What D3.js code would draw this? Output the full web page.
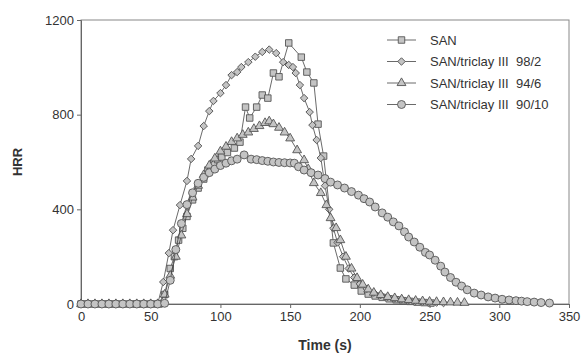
<!DOCTYPE html>
<html>
<head>
<meta charset="utf-8">
<script src="https://cdn.jsdelivr.net/npm/d3@7"></script>
<style>
body { margin: 0; background: #fff; }
text { font-family: "Liberation Sans", Arial, sans-serif; fill: #333; white-space: pre; }
</style>
</head>
<body>
<script>
var width = 585;
var height = 358;

var seriesNames = ["SAN", "SAN/triclay III  98/2", "SAN/triclay III  94/6", "SAN/triclay III  90/10"];
var xTicks = [0, 50, 100, 150, 200, 250, 300, 350];
var yTicks = [0, 400, 800, 1200];

// [time, HRR]
var san = [[0,0],[4,0],[8,0],[12,0],[16,0],[20,0],[24,0],[28,0],[32,0],[36,0],[40,0],[44,0],[48,0],[52,0],[56,0],
  [60,40],[64,150],[67,200],[70,270],[73,320],[76,370],[80,440],[84,490],[88,528],[91,566],[95,595],[98,610],[101,621],
  [105,640],[110,659],[114,684],[118,832],[121,786],[126,832],[130,883],[134,870],[138,976],[142,960],[149,1103],
  [158,1043],[162,980],[167,934],[170,760],[174,625],[181,258],[186,152],[190,106],[196,80],[201,55],[206,42],
  [211,34],[216,28],[221,22],[226,18],[231,14],[236,11],[241,8],[246,6],[251,4]];
var tc98 = [[0,0],[5,0],[10,0],[15,0],[20,0],[25,0],[30,0],[35,0],[40,0],[45,0],[50,0],[55,0],
  [59,93],[63,215],[66,312],[71,418],[76,520],[79,613],[84,668],[88,752],[92,815],[95,858],[100,891],[104,925],
  [108,967],[112,980],[115,1001],[120,1022],[125,1045],[130,1065],[135,1075],[140,1060],[145,1022],[149,1010],[152,1001],
  [154,976],[157,925],[160,870],[164,811],[166,756],[169,693],[172,617],[175,500],[178,400],[181,320],[184,260],[188,200],
  [192,150],[196,112],[200,85],[205,64],[210,48],[215,38],[220,30],[225,24],[230,20],[235,16],[240,13],[245,10],
  [250,8],[255,6],[260,4]];
var tc94 = [[0,0],[5,0],[10,0],[15,0],[20,0],[25,0],[30,0],[35,0],[40,0],[45,0],[50,0],[55,0],
  [60,40],[64,120],[68,200],[72,290],[76,380],[80,450],[84,500],[88,545],[92,585],[96,615],[100,645],[104,665],
  [108,685],[112,700],[116,715],[120,725],[124,740],[128,752],[132,765],[135,772],[138,760],[142,745],[146,725],
  [150,700],[155,650],[160,608],[163,570],[167,511],[172,469],[176,418],[179,363],[183,321],[186,270],[190,200],
  [194,150],[198,110],[202,82],[206,62],[210,48],[215,38],[220,30],[225,25],[230,20],[235,17],[240,14],[245,12],
  [250,10],[255,9],[260,8],[265,7],[270,6],[275,5]];
var tc90 = [[0,0],[5,0],[10,0],[15,0],[20,0],[25,0],[30,0],[35,0],[40,0],[45,0],[50,0],[55,0],
  [60,3],[64,100],[68,230],[72,340],[76,420],[80,470],[84,510],[88,535],[92,555],[96,570],[100,585],[104,595],
  [108,605],[112,612],[117,630],[122,612],[126,610],[130,606],[134,603],[138,600],[142,598],[146,597],[150,596],
  [153,595],[156,580],[160,566],[165,555],[170,545],[175,530],[179,515],[184,503],[189,490],[194,475],[199,460],
  [203,445],[207,431],[211,410],[216,385],[220,367],[224,347],[228,330],[232,305],[235,283],[239,262],[243,240],
  [247,218],[250,207],[254,185],[258,160],[261,135],[265,112],[269,92],[273,76],[277,60],[282,46],[287,38],
  [292,30],[297,25],[302,20],[307,17],[312,14],[316,12],[320,10],[325,8],[330,6],[336,4]];

var allSeries = [san, tc98, tc94, tc90];
var markers = [d3.symbolSquare, d3.symbolSquare, d3.symbolTriangle, d3.symbolCircle];
var markerSize = [42, 28, 34, 50];
var markerRot = [0, 45, 0, 0];

var svg = d3.select("body")
    .append("svg")
    .attr("width", width)
    .attr("height", height);

var x = d3.scaleLinear().domain([0, 350]).range([81, 569]);
var y = d3.scaleLinear().domain([0, 1200]).range([304, 20]);

// frame
svg.append("rect")
    .attr("x", x(0))
    .attr("y", y(1200))
    .attr("width", x(350) - x(0))
    .attr("height", y(0) - y(1200))
    .attr("fill", "none")
    .attr("stroke", "#888")
    .attr("stroke-width", 1);

var xAxis = svg.append("g")
    .attr("transform", "translate(0," + y(0) + ")")
    .call(d3.axisBottom(x).tickValues(xTicks).tickFormat(d3.format("d")).tickSize(4).tickPadding(4));
var yAxis = svg.append("g")
    .attr("transform", "translate(" + x(0) + ",0)")
    .call(d3.axisLeft(y).tickValues(yTicks).tickFormat(d3.format("d")).tickSize(4).tickPadding(3));
[xAxis, yAxis].forEach(function(ax) {
  ax.select(".domain").attr("stroke", "#666");
  ax.selectAll(".tick line").attr("stroke", "#666");
  ax.selectAll(".tick text").attr("fill", "#333").style("font-size", "13px")
    .style("font-family", "Liberation Sans, Arial, sans-serif");
});

var line = d3.line()
    .x(function(d) { return x(d[0]); })
    .y(function(d) { return y(d[1]); });

allSeries.forEach(function(data, i) {
  var g = svg.append("g");
  g.append("path")
      .attr("d", line(data))
      .attr("fill", "none")
      .attr("stroke", "#444")
      .attr("stroke-width", 0.8);
  g.selectAll("path.m")
      .data(data)
      .enter().append("path")
      .attr("class", "m")
      .attr("transform", function(d) { return "translate(" + x(d[0]) + "," + y(d[1]) + ") rotate(" + markerRot[i] + ")"; })
      .attr("d", d3.symbol().type(markers[i]).size(markerSize[i]))
      .attr("fill", "#c4c4c4")
      .attr("stroke", "#555")
      .attr("stroke-width", 0.9);
});

// legend
var legend = svg.selectAll(".legend")
    .data(seriesNames)
    .enter().append("g")
    .attr("class", "legend")
    .attr("transform", function(d, i) { return "translate(0," + (40 + i * 21.5) + ")"; });

legend.append("line")
    .attr("x1", 387).attr("x2", 416)
    .attr("y1", 0).attr("y2", 0)
    .attr("stroke", "#444")
    .attr("stroke-width", 0.8);
legend.append("path")
    .attr("transform", function(d, i) { return "translate(401.5,0) rotate(" + markerRot[i] + ")"; })
    .attr("d", function(d, i) { return d3.symbol().type(markers[i]).size(markerSize[i])(); })
    .attr("fill", "#c4c4c4")
    .attr("stroke", "#555")
    .attr("stroke-width", 0.9);
legend.append("text")
    .attr("x", 430)
    .attr("y", 0)
    .attr("dy", ".35em")
    .attr("xml:space", "preserve")
    .style("font-size", "13px")
    .text(function(d) { return d; });

svg.append("text")
    .attr("transform", "translate(22," + y(600) + ") rotate(-90)")
    .attr("text-anchor", "middle")
    .style("font-size", "13px")
    .style("font-weight", "bold")
    .text("HRR");
svg.append("text")
    .attr("x", x(175))
    .attr("y", 350)
    .attr("text-anchor", "middle")
    .style("font-size", "14px")
    .style("font-weight", "bold")
    .text("Time (s)");
</script>
</body>
</html>
